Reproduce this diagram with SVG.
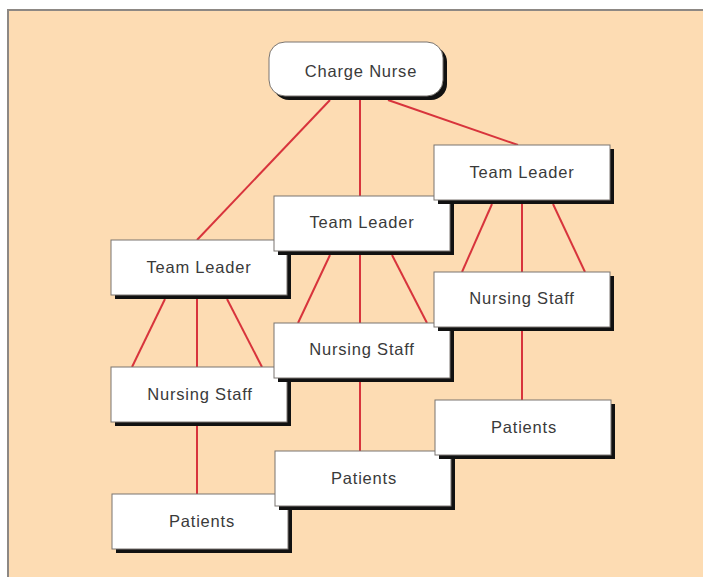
<svg xmlns="http://www.w3.org/2000/svg" width="703" height="577" viewBox="0 0 703 577">
  <style>
    .frame { fill: #fddcb3; stroke: #8d8884; stroke-width: 2; }
    .shadow { fill: #111; }
    .box { fill: #ffffff; stroke: #7a7570; stroke-width: 1; }
    .lbl { font-family: "Liberation Sans", Arial, sans-serif; font-size: 16.5px; letter-spacing: 0.8px; fill: #3a3a3a; text-anchor: middle; }
    .conn { stroke: #d8343c; stroke-width: 2; fill: none; }
  </style>
  <rect width="703" height="577" fill="#ffffff"/>
  <rect class="frame" x="8" y="10" width="710" height="590"/>
  <g id="connectors">
    <line class="conn" x1="330" y1="100" x2="197" y2="240"/>
    <line class="conn" x1="360" y1="100" x2="360" y2="196"/>
    <line class="conn" x1="388" y1="100" x2="518" y2="145"/>
    <line class="conn" x1="165" y1="299" x2="132" y2="367"/>
    <line class="conn" x1="197" y1="299" x2="197" y2="367"/>
    <line class="conn" x1="227" y1="299" x2="262" y2="367"/>
    <line class="conn" x1="330" y1="255" x2="298" y2="323"/>
    <line class="conn" x1="360" y1="255" x2="360" y2="323"/>
    <line class="conn" x1="392" y1="255" x2="427" y2="323"/>
    <line class="conn" x1="492" y1="204" x2="462" y2="272"/>
    <line class="conn" x1="522" y1="204" x2="522" y2="272"/>
    <line class="conn" x1="553" y1="204" x2="585" y2="272"/>
    <line class="conn" x1="197" y1="426" x2="197" y2="494"/>
    <line class="conn" x1="360" y1="382" x2="360" y2="451"/>
    <line class="conn" x1="522" y1="331" x2="522" y2="400"/>
  </g>
  <g id="charge-nurse">
    <rect class="shadow" x="273" y="46" width="174" height="54" rx="16"/>
    <rect class="box" x="269" y="42" width="174" height="54" rx="16"/>
    <text class="lbl" x="361" y="77">Charge Nurse</text>
  </g>
  <g id="team-leader-1">
    <rect class="shadow" x="115" y="244" width="176" height="55"/>
    <rect class="box" x="111" y="240" width="176" height="55"/>
    <text class="lbl" x="199" y="273">Team Leader</text>
  </g>
  <g id="team-leader-2">
    <rect class="shadow" x="278" y="200" width="176" height="55"/>
    <rect class="box" x="274" y="196" width="176" height="55"/>
    <text class="lbl" x="362" y="228">Team Leader</text>
  </g>
  <g id="team-leader-3">
    <rect class="shadow" x="438" y="149" width="176" height="55"/>
    <rect class="box" x="434" y="145" width="176" height="55"/>
    <text class="lbl" x="522" y="178">Team Leader</text>
  </g>
  <g id="nursing-staff-1">
    <rect class="shadow" x="115" y="371" width="176" height="55"/>
    <rect class="box" x="111" y="367" width="176" height="55"/>
    <text class="lbl" x="200" y="400">Nursing Staff</text>
  </g>
  <g id="nursing-staff-2">
    <rect class="shadow" x="278" y="327" width="176" height="55"/>
    <rect class="box" x="274" y="323" width="176" height="55"/>
    <text class="lbl" x="362" y="355">Nursing Staff</text>
  </g>
  <g id="nursing-staff-3">
    <rect class="shadow" x="438" y="276" width="176" height="55"/>
    <rect class="box" x="434" y="272" width="176" height="55"/>
    <text class="lbl" x="522" y="304">Nursing Staff</text>
  </g>
  <g id="patients-1">
    <rect class="shadow" x="116" y="498" width="176" height="55"/>
    <rect class="box" x="112" y="494" width="176" height="55"/>
    <text class="lbl" x="202" y="527">Patients</text>
  </g>
  <g id="patients-2">
    <rect class="shadow" x="279" y="455" width="176" height="55"/>
    <rect class="box" x="275" y="451" width="176" height="55"/>
    <text class="lbl" x="364" y="484">Patients</text>
  </g>
  <g id="patients-3">
    <rect class="shadow" x="439" y="404" width="176" height="55"/>
    <rect class="box" x="435" y="400" width="176" height="55"/>
    <text class="lbl" x="524" y="433">Patients</text>
  </g>
</svg>
